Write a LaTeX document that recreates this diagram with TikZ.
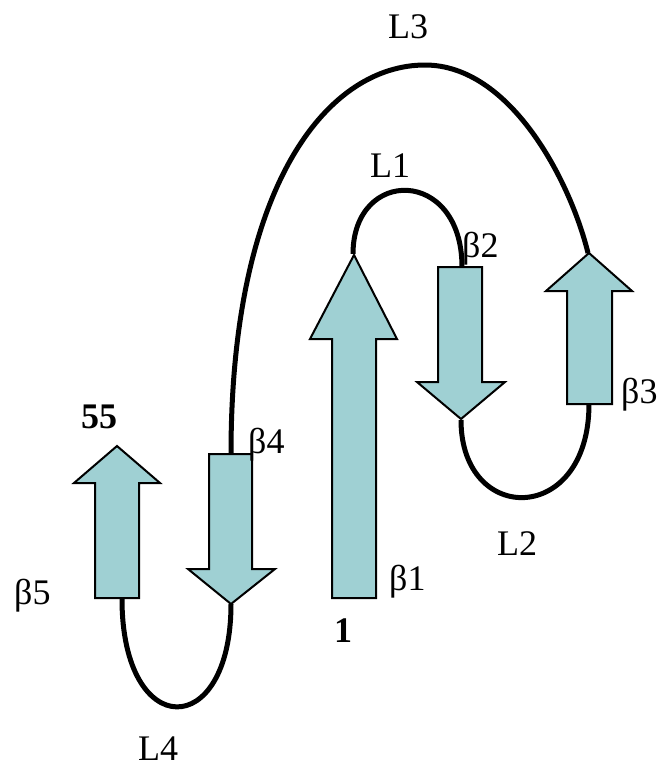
\documentclass[tikz,border=0pt]{standalone}
\usepackage{fontspec}
\setmainfont{Liberation Serif}
\definecolor{strandfill}{RGB}{159,208,211}
\tikzset{
  strand/.style={draw=black, line width=2pt, fill=strandfill, line join=miter},
  loopline/.style={draw=black, line width=5pt, line cap=butt},
  lbl/.style={anchor=base west, inner sep=0pt, font=\fontsize{36}{40}\selectfont},
  bold lbl/.style={lbl, font=\fontsize{36}{40}\selectfont\bfseries}
}
\begin{document}
\begin{tikzpicture}[x=1pt,y=-1pt]
\useasboundingbox (0,0) rectangle (662,769);
% connection points
\coordinate (b1tip) at (353,254);
\coordinate (b2top) at (462,267);
\coordinate (b2tip) at (461,420);
\coordinate (b3bot) at (589,404);
\coordinate (b3tip) at (588,253);
\coordinate (b4top) at (231,454);
\coordinate (b4tip) at (231,604);
\coordinate (b5bot) at (122,599);
\coordinate (l3top) at (425,65);
% loops
\draw[loopline] (b1tip) .. controls (353,167) and (462,167) .. (b2top);
\draw[loopline] (b2tip) .. controls (461,526) and (589,526) .. (b3bot);
\draw[loopline] (b4top) .. controls (231,180) and (330,65) .. (l3top)
                        .. controls (510,65) and (570,180) .. (b3tip);
\draw[loopline] (b5bot) .. controls (122,742) and (231,742) .. (b4tip);
% strands
\path[strand] (332,598) -- (376,598) -- (376,339) -- (397,339) -- (354,255) -- (310,339) -- (332,339) -- cycle;
\path[strand] (438,267) -- (482,267) -- (482,382) -- (505,382) -- (461,419) -- (417,382) -- (438,382) -- cycle;
\path[strand] (567,404) -- (612,404) -- (612,291) -- (632,291) -- (589,253) -- (546,291) -- (567,291) -- cycle;
\path[strand] (209,454) -- (252,454) -- (252,569) -- (275,569) -- (231,604) -- (188,569) -- (209,569) -- cycle;
\path[strand] (95,598) -- (139,598) -- (139,483) -- (160,483) -- (117,446) -- (74,483) -- (95,483) -- cycle;
% labels
\node[lbl] (tL3) at (388,38) {L3};
\node[lbl] (tL1) at (370,177) {L1};
\node[lbl] (tL2) at (497,555) {L2};
\node[lbl] (tL4) at (138,760) {L4};
\node[lbl] (tb1) at (389,590) {β1};
\node[lbl] (tb2) at (462,257) {β2};
\node[lbl] (tb3) at (621,403) {β3};
\node[lbl] (tb4) at (248,453) {β4};
\node[lbl] (tb5) at (14,604) {β5};
\node[bold lbl] (t1) at (334,642) {1};
\node[bold lbl] (t55) at (81,428) {55};
\end{tikzpicture}
\end{document}
